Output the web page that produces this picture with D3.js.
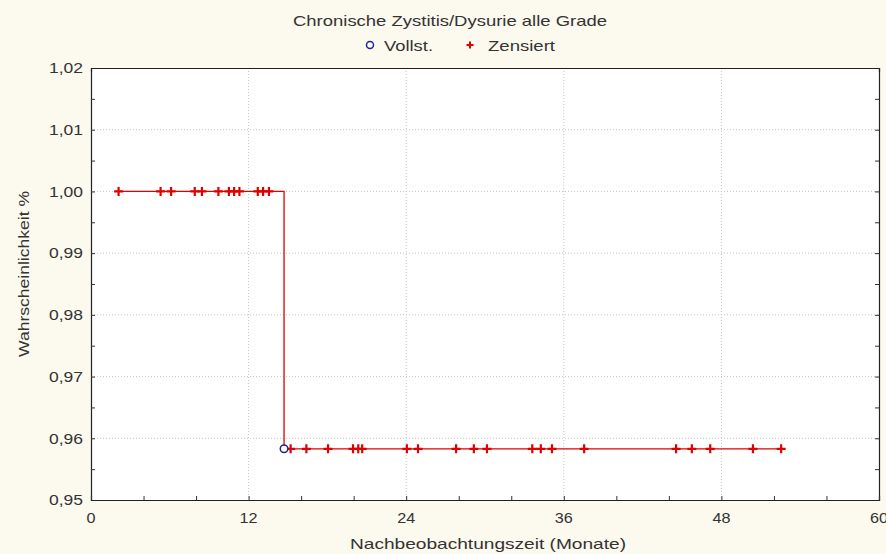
<!DOCTYPE html>
<html><head><meta charset="utf-8">
<script src="https://cdn.jsdelivr.net/npm/d3@7"></script>
<style>
html,body{margin:0;padding:0;background:#fcf9ee;}
svg{display:block;font-family:"Liberation Sans",Arial,sans-serif;}
</style></head>
<body>
<svg id="c" width="886" height="554"></svg>
<script>
// ---- data ----
const titleText = "Chronische Zystitis/Dysurie alle Grade";
const legendLabels = ["Vollst.", "Zensiert"];
const xTitle = "Nachbeobachtungszeit (Monate)";
const yTitle = "Wahrscheinlichkeit %";
const xMajorTicks = [0, 12, 24, 36, 48, 60];
const yMajorTicks = [0.95, 0.96, 0.97, 0.98, 0.99, 1.00, 1.01, 1.02];
// censored times while survival = 1.00
const censoredHighTimes = [2.1, 5.3, 6.1, 7.9, 8.45, 9.7, 10.5, 10.9, 11.3, 12.7, 13.1, 13.55];
const levelHigh = 1.00;
// complete (event) time
const eventTimes = [14.7];
const levelLow = 0.9583;
// censored times after the event
const censoredLowTimes = [15.2, 16.4, 18.05, 19.95, 20.35, 20.65, 24.05, 24.9, 27.8, 29.15, 30.15, 33.6, 34.25, 35.1, 37.55, 44.55, 45.75, 47.15, 50.4, 52.55];

// ---- layout ----
const svg = d3.select("#c");
const L = 91, R = 879, T = 68, B = 500;
const x = d3.scaleLinear().domain([0, 60]).range([L, R]);
const y = d3.scaleLinear().domain([0.95, 1.02]).range([B, T]);
const loc = d3.formatLocale({decimal: ",", thousands: ".", grouping: [3], currency: ["", "€"]});
const fmt = loc.format(".2f");
const textCol = "#333333";
const FS = 15;

// plot background
svg.append("rect").attr("x", L).attr("y", T).attr("width", R - L).attr("height", B - T).attr("fill", "#ffffff");

// grid
const g = svg.append("g");
yMajorTicks.filter(v => v > 0.95 && v < 1.02).forEach(v => {
  g.append("line").attr("x1", L).attr("x2", R).attr("y1", y(v)).attr("y2", y(v))
    .attr("stroke", "#c4c4c4").attr("stroke-dasharray", "1,2");
});
xMajorTicks.filter(v => v > 0 && v < 60).forEach(v => {
  g.append("line").attr("y1", T).attr("y2", B).attr("x1", x(v)).attr("x2", x(v))
    .attr("stroke", "#c4c4c4").attr("stroke-dasharray", "1,2");
});

// minor ticks
const yMinor = d3.range(0, 15).map(i => 0.95 + i * 0.005);
const xMinor = d3.range(0, 16).map(i => i * 4);

const axL = d3.axisLeft(y).tickValues(yMinor).tickSize(-4).tickFormat("");
const axR = d3.axisRight(y).tickValues(yMinor).tickSize(-4).tickFormat("");
const axB = d3.axisBottom(x).tickValues(xMinor).tickSize(-4).tickFormat("");
const axT = d3.axisTop(x).tickValues(xMinor).tickSize(-4).tickFormat("");
function styleAx(sel){ sel.selectAll("path").attr("stroke", "#222").attr("stroke-width", 1.2); sel.selectAll("line").attr("stroke", "#333"); }
svg.append("g").attr("transform", `translate(${L},0)`).call(axL).call(styleAx);
svg.append("g").attr("transform", `translate(${R},0)`).call(axR).call(styleAx);
svg.append("g").attr("transform", `translate(0,${B})`).call(axB).call(styleAx);
svg.append("g").attr("transform", `translate(0,${T})`).call(axT).call(g2 => g2.selectAll("line").remove()).call(styleAx);

// tick labels
svg.append("g").selectAll("text").data(yMajorTicks).join("text")
  .attr("x", L - 8).attr("y", d => y(d)).attr("dy", "0.35em").attr("text-anchor", "end")
  .attr("font-size", FS).attr("fill", textCol)
  .attr("textLength", 34).attr("lengthAdjust", "spacingAndGlyphs").text(d => fmt(d));
svg.append("g").selectAll("text").data(xMajorTicks).join("text")
  .attr("x", d => x(d)).attr("y", B + 23).attr("text-anchor", "middle")
  .attr("font-size", FS).attr("fill", textCol)
  .attr("textLength", d => String(d).length * 9).attr("lengthAdjust", "spacingAndGlyphs").text(d => d);

// titles
svg.append("text").attr("x", 450).attr("y", 26).attr("text-anchor", "middle")
  .attr("font-size", FS).attr("fill", textCol)
  .attr("textLength", 314).attr("lengthAdjust", "spacingAndGlyphs").text(titleText);
svg.append("text").attr("x", 488).attr("y", 549).attr("text-anchor", "middle")
  .attr("font-size", FS).attr("fill", textCol)
  .attr("textLength", 276).attr("lengthAdjust", "spacingAndGlyphs").text(xTitle);
svg.append("text").attr("transform", `translate(29,${(T + B) / 2 - 10}) rotate(-90)`).attr("text-anchor", "middle")
  .attr("font-size", FS).attr("fill", textCol)
  .attr("textLength", 166).attr("lengthAdjust", "spacingAndGlyphs").text(yTitle);

// legend
const crossPath = "M-4.5,0H4.5M0,-4.5V4.5";
svg.append("circle").attr("cx", 370).attr("cy", 45).attr("r", 3.5).attr("fill", "#fff").attr("stroke", "#2020a0").attr("stroke-width", 1.5);
svg.append("text").attr("x", 384).attr("y", 51).attr("font-size", FS).attr("fill", textCol)
  .attr("textLength", 49).attr("lengthAdjust", "spacingAndGlyphs").text(legendLabels[0]);
svg.append("path").attr("d", "M-3.5,0H3.5M0,-3.5V3.5").attr("transform", "translate(470,45)").attr("stroke", "#e00000").attr("stroke-width", 2);
svg.append("text").attr("x", 488).attr("y", 51).attr("font-size", FS).attr("fill", textCol)
  .attr("textLength", 67).attr("lengthAdjust", "spacingAndGlyphs").text(legendLabels[1]);

// survival curve
const pts = [[censoredHighTimes[0], levelHigh], [eventTimes[0], levelLow], [censoredLowTimes[censoredLowTimes.length - 1], levelLow]];
const line = d3.line().x(d => x(d[0])).y(d => y(d[1])).curve(d3.curveStepAfter);
svg.append("path").attr("d", line(pts)).attr("fill", "none").attr("stroke", "#e00000").attr("stroke-width", 1.3);

// censored markers
const cens = censoredHighTimes.map(t => [t, levelHigh]).concat(censoredLowTimes.map(t => [t, levelLow]));
svg.append("g").selectAll("path").data(cens).join("path")
  .attr("d", crossPath).attr("transform", d => `translate(${x(d[0])},${y(d[1])})`)
  .attr("stroke", "#e00000").attr("stroke-width", 2.2);

// event markers
svg.append("g").selectAll("circle").data(eventTimes).join("circle")
  .attr("cx", d => x(d)).attr("cy", y(levelLow)).attr("r", 3.8)
  .attr("fill", "#fff").attr("stroke", "#2020a0").attr("stroke-width", 1.5);
</script>
</body></html>
